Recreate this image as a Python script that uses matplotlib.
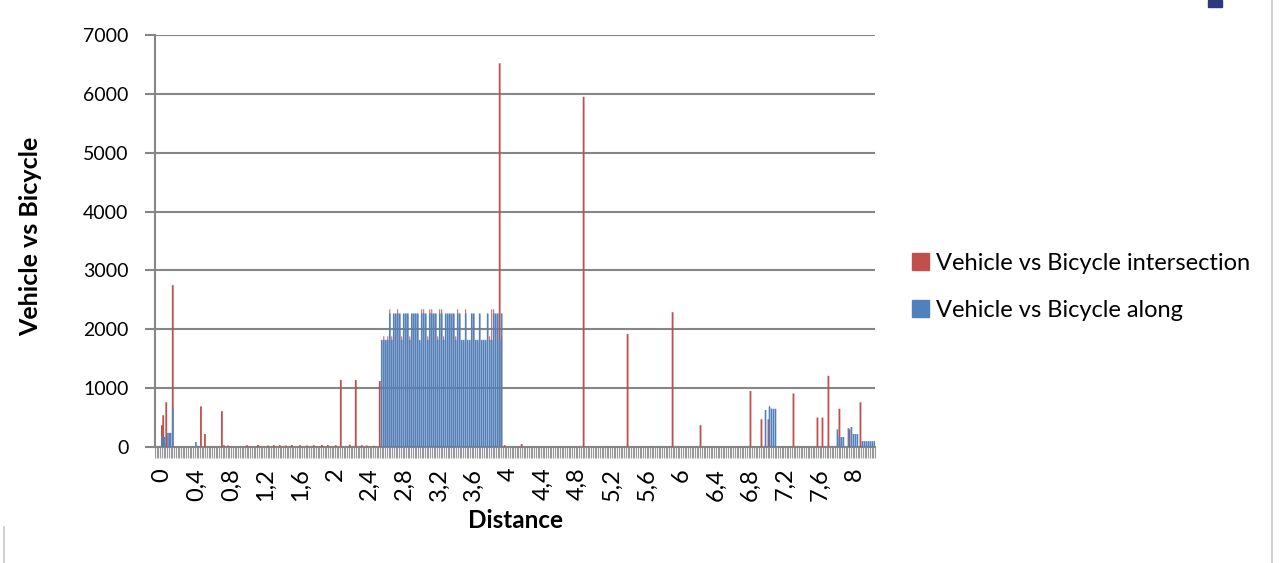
import matplotlib.pyplot as plt
from matplotlib.patches import Patch, Rectangle
from matplotlib.lines import Line2D
from matplotlib.ticker import MultipleLocator, FixedLocator
import numpy as np

# --- data ---
# Vehicle vs Bicycle along (blue)
along_dist = [0.0, 0.015, 0.03, 0.07, 0.09, 0.1, 0.125, 0.393, 0.416,
              2.540, 2.564, 2.587, 2.610, 2.633, 2.656, 2.679, 2.702, 2.725, 2.748,
              2.771, 2.794, 2.818, 2.841, 2.864, 2.887, 2.910, 2.933, 2.956, 2.979,
              3.002, 3.025, 3.048, 3.072, 3.095, 3.118, 3.141, 3.164, 3.187, 3.210,
              3.233, 3.256, 3.279, 3.303, 3.326, 3.349, 3.372, 3.395, 3.418, 3.441,
              3.464, 3.487, 3.510, 3.533, 3.557, 3.580, 3.603, 3.626, 3.649, 3.672,
              3.695, 3.718, 3.741, 3.764, 3.788, 3.811, 3.834, 3.857, 3.880, 3.903,
              3.926,
              6.975, 7.021, 7.044, 7.067, 7.090,
              7.806, 7.829, 7.852, 7.875, 7.933, 7.968, 7.991, 8.014, 8.037,
              8.095, 8.118, 8.141, 8.164, 8.187, 8.210, 8.233]
along = [170, 170, 170, 240, 240, 240, 660, 85, 20,
         1820, 1820, 1820, 1820, 2270, 1820, 2270, 2270, 2270, 2270,
         1820, 2270, 2270, 2270, 1820, 2270, 2270, 2270, 2270, 1820,
         2270, 2270, 2270, 1820, 2270, 2270, 2270, 2270, 1820, 2270,
         2270, 1820, 2270, 2270, 2270, 2270, 2270, 1820, 2270, 2270,
         1820, 1820, 2270, 1820, 1820, 2270, 2270, 1820, 1820, 2270,
         1820, 1820, 1820, 2270, 1820, 1820, 2270, 2270, 2270, 1820,
         2270,
         630, 680, 650, 650, 650,
         300, 170, 170, 170, 320, 340, 220, 220, 220,
         100, 100, 100, 100, 100, 100, 100]

# Vehicle vs Bicycle intersection (red)
inter_dist = [0.0, 0.015, 0.05, 0.125, 0.451, 0.497, 0.693,
              0.716, 0.762, 0.982, 1.109, 1.224, 1.293, 1.363, 1.432, 1.501,
              1.594, 1.674, 1.755, 1.848, 1.917, 2.009,
              2.067, 2.171, 2.240, 2.309, 2.367, 2.448, 2.517,
              2.540, 2.564, 2.587, 2.610, 2.633, 2.656, 2.679, 2.702, 2.725, 2.748,
              2.771, 2.794, 2.818, 2.841, 2.864, 2.887, 2.910, 2.933, 2.956, 2.979,
              3.002, 3.025, 3.048, 3.072, 3.095, 3.118, 3.141, 3.164, 3.187, 3.210,
              3.233, 3.256, 3.279, 3.303, 3.326, 3.349, 3.372, 3.395, 3.418, 3.441,
              3.464, 3.487, 3.510, 3.533, 3.557, 3.580, 3.603, 3.626, 3.649, 3.672,
              3.695, 3.718, 3.741, 3.764, 3.788, 3.811, 3.834, 3.857, 3.880, 3.903,
              3.926,
              3.961, 4.157, 4.873, 5.127, 5.381, 5.670, 5.901, 6.224, 6.801,
              6.928, 7.009, 7.021, 7.044, 7.298, 7.575, 7.633, 7.702, 7.829,
              7.875, 7.945, 8.072]
inter = [370, 540, 760, 2750, 690, 220, 610,
         30, 25, 30, 35, 25, 30, 30, 25, 35,
         30, 25, 30, 35, 30, 30,
         1140, 40, 1140, 30, 25, 20, 1120,
         1790, 1880, 1790, 1880, 2340, 1880, 2250, 2250, 2340, 2250,
         1880, 2250, 2250, 2250, 1880, 2250, 2250, 2250, 2250, 1790,
         2340, 2340, 2250, 1880, 2340, 2340, 2250, 2250, 1880, 2340,
         2340, 1880, 2250, 2250, 2250, 2250, 2250, 1880, 2340, 2250,
         1790, 1790, 2340, 1790, 1790, 2250, 2250, 1790, 1790, 2250,
         1790, 1790, 1790, 2250, 1880, 2340, 2340, 2250, 2250, 6520,
         1880,
         30, 50, 5950, 10, 1920, 10, 2290, 370, 950,
         470, 470, 700, 650, 910, 500, 500, 1210, 650,
         170, 300, 760]

tick_vals = [0, 0.4, 0.8, 1.2, 1.6, 2, 2.4, 2.8, 3.2, 3.6, 4, 4.4, 4.8,
             5.2, 5.6, 6, 6.4, 6.8, 7.2, 7.6, 8]
tick_labels = ['0', '0,4', '0,8', '1,2', '1,6', '2', '2,4', '2,8', '3,2', '3,6',
               '4', '4,4', '4,8', '5,2', '5,6', '6', '6,4', '6,8', '7,2', '7,6', '8']

RED = '#C0504D'
BLUE = '#4F81BD'
GRID = '#868686'

plt.rcParams['font.family'] = ['Lato', 'DejaVu Sans']

fig = plt.figure(figsize=(12.79, 5.63), dpi=100)
fig.patch.set_facecolor('white')
ax = fig.add_axes([155 / 1279, 116 / 563, 720 / 1279, 412 / 563])

# thin bars (~2px); where a blue bar of similar height sits on the same spot the
# red one is drawn narrower underneath so only its top shows
along_at = dict(zip(along_dist, along))
red_w = [0.011 if (d in along_at and v < 2 * along_at[d]) else 0.021
         for d, v in zip(inter_dist, inter)]
ax.bar(inter_dist, inter, width=red_w, color=RED, linewidth=0, zorder=3, snap=False)
ax.bar(along_dist, along, width=0.019, color=BLUE, linewidth=0, zorder=4, snap=False)

ax.set_xlim(-0.08, 8.24)
ax.set_ylim(0, 7000)
ax.set_yticks(np.arange(0, 7001, 1000))
ax.tick_params(axis='y', labelsize=14, length=7, width=1.5, color=GRID, pad=12)
ax.grid(axis='y', color=GRID, linewidth=1.5, zorder=1)
ax.set_axisbelow(True)

ax.xaxis.set_major_locator(FixedLocator(tick_vals))
ax.set_xticklabels(tick_labels, rotation=90)
ax.xaxis.set_minor_locator(MultipleLocator(0.02))
ax.tick_params(axis='x', which='major', labelsize=17, length=8, width=0.8,
               color='#999999', pad=7)
ax.tick_params(axis='x', which='minor', length=8, width=0.8, color='#999999')

for s in ['top', 'right']:
    ax.spines[s].set_visible(False)
for s in ['left', 'bottom']:
    ax.spines[s].set_color(GRID)
    ax.spines[s].set_linewidth(1.5)

fig.text(515 / 1279, 1 - 520 / 563, 'Distance', ha='center', va='center',
         fontsize=17.5, fontweight='bold')
fig.text(31 / 1279, 1 - 236 / 563, 'Vehicle vs Bicycle', ha='center', va='center',
         rotation=90, fontsize=18, fontweight='bold')

handles = [Patch(color=RED), Patch(color=BLUE)]
fig.legend(handles, ['Vehicle vs Bicycle intersection', 'Vehicle vs Bicycle along'],
           loc='center left', bbox_to_anchor=(891 / 1279, 1 - 287 / 563),
           frameon=False, fontsize=17, handlelength=0.7, handleheight=0.7,
           handletextpad=0.3, labelspacing=1.1)

# chart-area border pieces and clipped logo at top right
fig.add_artist(Line2D([1272 / 1279, 1272 / 1279], [0, 1], color='#c8c8c8', lw=1.2))
fig.add_artist(Line2D([4 / 1279, 4 / 1279], [0, 36 / 563], color='#c8c8c8', lw=1.2))
fig.add_artist(Rectangle((1208 / 1279, 1 - 7 / 563), 14 / 1279, 7 / 563,
                         color='#2a3a7a', transform=fig.transFigure))

fig.savefig('out.png', dpi=100, facecolor='white')
